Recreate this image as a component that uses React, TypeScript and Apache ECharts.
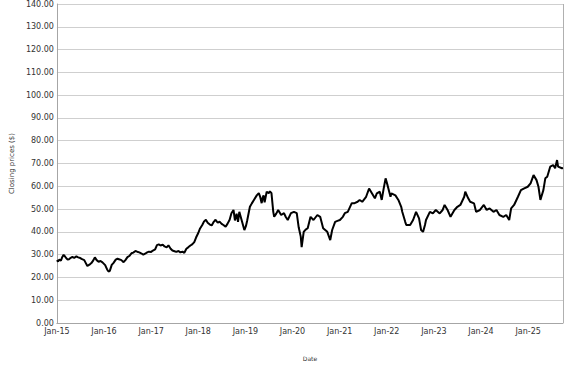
import React, { useEffect, useRef } from "react";
import * as echarts from "echarts";

const dates: string[] = [
  "2015-01-01","2015-01-10","2015-01-20","2015-02-01","2015-02-12","2015-02-22","2015-03-05","2015-03-15","2015-03-25","2015-04-05",
  "2015-04-18","2015-05-01","2015-05-15","2015-06-01","2015-06-15","2015-07-01","2015-07-15","2015-08-01","2015-08-12","2015-08-25",
  "2015-09-10","2015-09-25","2015-10-10","2015-10-22","2015-11-05","2015-11-20","2015-12-05","2015-12-20","2016-01-10","2016-01-25",
  "2016-02-05","2016-02-15","2016-03-01","2016-03-15","2016-04-01","2016-04-15","2016-05-01","2016-05-15","2016-06-01","2016-06-15",
  "2016-07-01","2016-07-15","2016-08-01","2016-08-15","2016-09-01","2016-09-15","2016-10-01","2016-10-15","2016-11-01","2016-11-15",
  "2016-12-01","2016-12-15","2017-01-01","2017-01-15","2017-02-01","2017-02-15","2017-03-01","2017-03-15","2017-04-01","2017-04-15",
  "2017-05-01","2017-05-15","2017-06-01","2017-06-15","2017-07-01","2017-07-15","2017-08-01","2017-08-15","2017-09-01","2017-09-15",
  "2017-10-01","2017-10-15","2017-11-01","2017-11-15","2017-12-01","2017-12-15","2018-01-01","2018-01-15","2018-02-01","2018-02-15",
  "2018-03-01","2018-03-15","2018-04-01","2018-04-15","2018-05-01","2018-05-15","2018-06-01","2018-06-15","2018-07-01","2018-07-15",
  "2018-08-01","2018-08-15","2018-09-01","2018-09-15","2018-10-01","2018-10-12","2018-10-25","2018-11-05","2018-11-15","2018-12-01",
  "2018-12-24","2019-01-05","2019-01-15","2019-02-05","2019-02-20","2019-03-08","2019-03-30","2019-04-15","2019-04-25","2019-05-07",
  "2019-05-15","2019-05-22","2019-05-30","2019-06-15","2019-07-01","2019-07-10","2019-07-22","2019-08-05","2019-08-12","2019-08-28",
  "2019-09-12","2019-10-05","2019-10-27","2019-11-10","2019-11-25","2019-12-20","2020-01-12","2020-02-03","2020-02-18","2020-03-05",
  "2020-03-12","2020-03-28","2020-04-12","2020-04-28","2020-05-20","2020-06-12","2020-07-12","2020-08-03","2020-08-26","2020-09-27",
  "2020-10-20","2020-11-04","2020-11-27","2020-12-15","2021-01-03","2021-01-26","2021-02-10","2021-03-05","2021-04-05","2021-04-27",
  "2021-05-20","2021-06-05","2021-06-25","2021-07-25","2021-08-17","2021-09-08","2021-10-01","2021-10-16","2021-11-08","2021-11-23",
  "2021-12-08","2021-12-23","2022-01-07","2022-01-30","2022-02-06","2022-03-09","2022-04-01","2022-04-23","2022-05-01","2022-05-24",
  "2022-06-01","2022-07-01","2022-07-24","2022-08-16","2022-09-08","2022-09-24","2022-10-09","2022-10-24","2022-11-01","2022-12-01",
  "2022-12-24","2023-01-16","2023-02-15","2023-03-10","2023-03-25","2023-04-17","2023-05-10","2023-06-09","2023-07-02","2023-07-25",
  "2023-08-24","2023-09-01","2023-09-24","2023-10-09","2023-11-08","2023-11-24","2023-12-24","2024-01-23","2024-02-14","2024-03-08",
  "2024-04-07","2024-04-30","2024-05-23","2024-06-22","2024-07-15","2024-08-07","2024-08-22","2024-09-14","2024-10-14","2024-11-06",
  "2024-11-28","2024-12-29","2025-01-20","2025-02-12","2025-03-07","2025-03-22","2025-04-06","2025-04-29","2025-05-14","2025-05-29",
  "2025-06-21","2025-07-14","2025-07-29","2025-08-13","2025-08-21","2025-09-20","2025-09-28"
];

const prices: number[] = [
  27.6,27.0,27.8,27.4,29.0,29.9,29.2,28.4,27.9,28.0,
  28.6,29.0,28.6,29.2,28.8,28.5,28.0,27.6,26.4,25.0,
  25.6,26.3,27.5,28.8,27.6,26.9,27.2,26.6,25.4,23.5,
  22.6,22.9,25.5,26.4,27.8,28.2,27.9,27.6,26.7,27.6,
  28.9,29.4,30.6,30.9,31.6,31.3,31.0,30.6,30.0,30.4,
  31.0,31.3,31.2,31.8,32.3,34.2,34.5,34.0,34.4,33.6,
  33.2,34.1,32.6,31.8,31.5,31.2,31.6,31.0,31.3,30.8,
  32.6,33.2,34.0,34.5,35.5,37.5,39.5,41.5,43.0,44.6,
  45.3,44.0,43.2,42.8,44.4,45.3,44.0,44.5,43.5,43.0,
  42.2,43.5,45.3,48.2,49.6,45.0,48.0,44.4,48.8,45.5,
  40.8,42.5,45.0,51.0,52.5,54.0,56.0,57.0,55.5,52.6,
  55.0,56.0,53.0,57.6,57.0,57.8,57.0,48.8,46.6,48.0,
  49.6,47.4,48.2,46.5,45.2,48.2,48.8,48.2,42.0,37.9,
  33.3,40.0,41.0,41.6,46.6,45.2,47.4,46.6,41.6,40.0,
  36.4,40.8,44.4,44.8,45.2,46.6,48.2,48.8,52.6,52.6,
  53.2,54.0,53.2,55.4,59.0,56.9,54.7,56.9,57.6,54.0,
  59.0,63.5,60.5,55.4,56.9,56.0,54.0,51.0,48.8,44.4,
  43.0,43.0,45.2,48.8,45.9,40.8,40.0,43.0,45.2,48.8,
  48.1,49.6,48.1,49.6,51.8,49.6,46.6,49.6,51.0,51.8,
  55.4,57.6,54.7,53.2,52.5,48.8,49.6,51.8,49.6,50.3,
  48.8,49.6,47.4,46.6,47.4,45.2,50.3,51.8,55.4,58.3,
  59.0,59.8,61.3,64.9,62.7,59.8,54.0,58.3,63.5,64.2,
  68.6,69.3,67.9,71.5,68.6,67.9,68.0
];

const yTicks = { min: 0, max: 140, interval: 10 };
const xStartYear = 2015;
const xEndYear = 2025.74;

function toYearFraction(s: string): number {
  const [y, m, d] = s.split("-").map(Number);
  const start = Date.UTC(y, 0, 1);
  const end = Date.UTC(y + 1, 0, 1);
  return y + (Date.UTC(y, m - 1, d) - start) / (end - start);
}

export default function App() {
  const ref = useRef<HTMLDivElement>(null);
  useEffect(() => {
    if (!ref.current) return;
    const chart = echarts.init(ref.current, null, { renderer: "svg" });
    const data = dates.map((d, i) => [toYearFraction(d), prices[i]]);
    const font = "DejaVu Sans";
    chart.setOption({
      animation: false,
      backgroundColor: "#ffffff",
      grid: { left: 45, top: 4, right: 14, bottom: 44, containLabel: false },
      xAxis: {
        type: "value",
        min: xStartYear,
        max: xEndYear,
        interval: 1,
        name: "Date",
        nameLocation: "middle",
        nameGap: 32,
        nameTextStyle: { fontFamily: font, fontSize: 6, color: "#333333" },
        axisLine: { show: true, lineStyle: { color: "#a6a6a6", width: 1 } },
        axisTick: { show: false },
        splitLine: { show: false },
        axisLabel: {
          fontFamily: font,
          fontSize: 8,
          color: "#333333",
          margin: 4,
          showMaxLabel: false,
          formatter: (v: number) => "Jan-" + String(Math.round(v) % 100).padStart(2, "0"),
        },
      },
      yAxis: {
        type: "value",
        min: yTicks.min,
        max: yTicks.max,
        interval: yTicks.interval,
        name: "Closing prices ($)",
        nameLocation: "middle",
        nameGap: 37,
        nameTextStyle: { fontFamily: font, fontSize: 7, color: "#333333" },
        axisLine: { show: true, lineStyle: { color: "#a6a6a6", width: 1 } },
        axisTick: { show: false },
        splitLine: { show: true, lineStyle: { color: "#cfcfcf", width: 1 } },
        axisLabel: {
          fontFamily: font,
          fontSize: 8,
          color: "#333333",
          margin: 3,
          formatter: (v: number) => v.toFixed(2),
        },
      },
      graphic: [
        {
          type: "line",
          shape: { x1: 563.5, y1: 4, x2: 563.5, y2: 323 },
          style: { stroke: "#b0b0b0", lineWidth: 1 },
        },
      ],
      series: [
        {
          type: "line",
          data,
          showSymbol: false,
          lineStyle: { color: "#000000", width: 2 },
        },
      ],
    });
    return () => chart.dispose();
  }, []);
  return (
    <div
      ref={ref}
      style={{ position: "fixed", left: 0, top: 0, width: 577, height: 367, background: "#fff" }}
    />
  );
}
